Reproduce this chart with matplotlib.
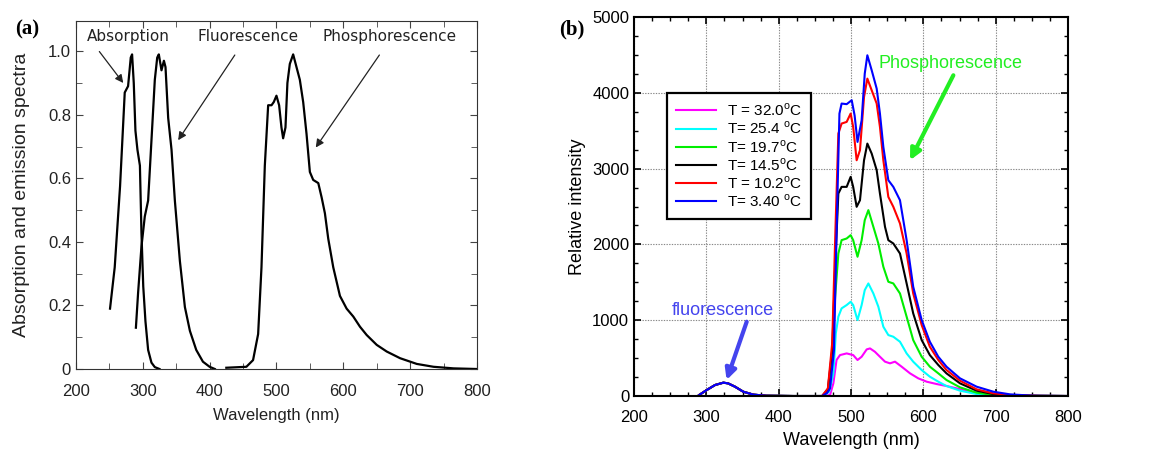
import numpy as np
import matplotlib
matplotlib.use("Agg")
import matplotlib.pyplot as plt
from matplotlib.ticker import MultipleLocator

plt.rcParams["font.family"] = ["Liberation Sans", "DejaVu Sans"]
plt.rcParams["mathtext.fontset"] = "custom"
plt.rcParams["mathtext.rm"] = "Liberation Sans"

# ── panel (a): normalised spectra ─────────────────────────────────────────
abs_wl = [251, 258, 266, 273, 278, 282, 284, 286.5, 289, 292, 295.7, 298,
          300.7, 304, 308, 313, 318, 325]
abs_val = [0.19, 0.32, 0.575, 0.87, 0.89, 0.98, 0.99, 0.90, 0.75, 0.69, 0.64,
           0.43, 0.26, 0.15, 0.06, 0.02, 0.006, 0.0]

flu_wl = [289.7, 293, 298, 303, 308, 313, 318, 321.6, 324, 328, 331.6, 334,
          338, 343, 348, 355.5, 363, 370.5, 380, 390, 400, 407.8]
flu_val = [0.13, 0.24, 0.385, 0.48, 0.53, 0.72, 0.91, 0.98, 0.99, 0.94, 0.97,
           0.95, 0.79, 0.69, 0.53, 0.34, 0.195, 0.12, 0.06, 0.023, 0.007, 0.0]

pho_wl = [425, 455, 465, 472.6, 477.6, 482.6, 487.6, 492.6, 496, 500, 504,
          507.5, 510, 513.5, 516.4, 520, 525, 530, 535, 540, 545, 550, 555,
          562.6, 567.6, 572.5, 577.5, 585, 595, 605, 615, 625, 635, 650, 665,
          685, 710, 735, 765, 800]
pho_val = [0.004, 0.007, 0.028, 0.11, 0.32, 0.64, 0.83, 0.83, 0.84, 0.86, 0.83,
           0.76, 0.726, 0.76, 0.90, 0.96, 0.99, 0.95, 0.91, 0.84, 0.74, 0.62,
           0.595, 0.585, 0.54, 0.49, 0.41, 0.32, 0.23, 0.19, 0.165, 0.133,
           0.107, 0.076, 0.055, 0.034, 0.016, 0.007, 0.002, 0.0]

# ── panel (b): temperature series ─────────────────────────────────────────
uv_wl = [290, 300.5, 312, 323.5, 330, 339.6, 351, 365, 383, 420, 457]
uv_int = [13, 79, 145, 176, 167, 123, 57, 18, 4, 0, 0]

t_labels = [r"T = 32.0$^{\mathrm{o}}$C", r"T= 25.4 $^{\mathrm{o}}$C",
            r"T= 19.7$^{\mathrm{o}}$C", r"T= 14.5$^{\mathrm{o}}$C",
            r"T = 10.2$^{\mathrm{o}}$C", r"T= 3.40 $^{\mathrm{o}}$C"]
t_colors = ["#ff00ff", "#00ffff", "#00ee00", "#000000", "#ff0000", "#0000ff"]

wl_32 = [462, 471, 475.6, 480, 484.8, 494, 503, 509, 514.7, 521.7, 526.3, 533,
         540, 547, 553.9, 560.8, 570, 581.6, 593, 604.6, 618.4, 632, 646, 660,
         673.7, 696.8, 740, 800]
int_32 = [0, 13, 167, 475, 540, 562, 540, 475, 518, 615, 628, 584, 518, 453,
          431, 453, 387, 299, 233, 189, 158, 132, 101, 66, 35, 9, 2, 0]

wl_25 = [462, 470, 475.6, 479, 482.5, 487, 494, 499.5, 503, 509, 514.7, 519,
         524, 530.9, 537.8, 544.7, 551.6, 558.5, 567.7, 576.9, 586, 597.7, 609,
         620.7, 632, 650.7, 673.7, 696.8, 740, 800]
int_25 = [0, 60, 299, 826, 1046, 1156, 1200, 1243, 1200, 1002, 1200, 1397,
          1485, 1353, 1178, 914, 804, 782, 716, 562, 453, 343, 255, 189, 132,
          70, 26, 9, 2, 0]

wl_19 = [461, 469, 474, 478, 482.5, 487, 494, 499.5, 503, 509, 514.7, 519,
         524, 530.9, 537.8, 544.7, 551.6, 558.5, 567.7, 576.9, 586, 597.7, 609,
         620.7, 632, 650.7, 673.7, 696.8, 740, 800]
int_19 = [0, 80, 500, 1300, 1880, 2056, 2078, 2122, 2056, 1837, 2056, 2320,
          2452, 2232, 2012, 1705, 1507, 1485, 1353, 1046, 738, 518, 387, 299,
          211, 114, 44, 13, 3, 0]

wl_14 = [460, 468, 474, 478.5, 482.5, 487, 494, 499.5, 503, 507.8, 512.4, 518,
         522.6, 528.6, 535.5, 540, 547, 551.6, 558.5, 567.7, 576.9, 586, 597.7,
         609, 620.7, 632, 650.7, 673.7, 696.8, 720, 760, 800]
int_14 = [0, 90, 600, 1800, 2671, 2759, 2759, 2891, 2759, 2496, 2583, 3110,
          3330, 3198, 2979, 2671, 2232, 2056, 2012, 1880, 1485, 1090, 738, 540,
          409, 299, 167, 70, 26, 9, 2, 0]

wl_10 = [460, 468, 474, 478.5, 482.5, 487, 494, 499.5, 503, 507.8, 512.4, 518,
         522.6, 528.6, 535.5, 540, 544.7, 551.6, 558.5, 567.7, 576.9, 586,
         597.7, 609, 620.7, 632, 650.7, 673.7, 696.8, 720, 760, 800]
int_10 = [0, 100, 700, 2200, 3462, 3594, 3616, 3726, 3550, 3110, 3243, 3945,
          4187, 4033, 3858, 3550, 3110, 2627, 2496, 2276, 1880, 1353, 936, 650,
          475, 343, 202, 88, 35, 13, 3, 0]

wl_3 = [460, 467, 471, 476.5, 480, 484, 487, 494, 501, 505, 509, 514.7, 519,
        522.6, 528.6, 535.5, 540, 544.7, 551.6, 558.5, 567.7, 576.9, 586,
        597.7, 609, 620.7, 632, 650.7, 673.7, 696.8, 719.8, 752, 800]
int_3 = [0, 40, 101, 606, 2144, 3726, 3858, 3850, 3902, 3700, 3352, 3638, 4253,
         4495, 4297, 4055, 3726, 3286, 2847, 2759, 2583, 2056, 1441, 1002, 716,
         518, 387, 233, 123, 57, 22, 4, 0]

t_wl = [wl_32, wl_25, wl_19, wl_14, wl_10, wl_3]
t_int = [int_32, int_25, int_19, int_14, int_10, int_3]


fig = plt.figure(figsize=(11.49, 4.53), dpi=100)

# ── (a) ────────────────────────────────────────────────────────────────────
ax1 = fig.add_axes([0.0661, 0.1854, 0.3490, 0.7682])
for wl, val in [(abs_wl, abs_val), (flu_wl, flu_val), (pho_wl, pho_val)]:
    ax1.plot(wl, val, color="black", lw=1.6)
ax1.set_xlim(200, 800)
ax1.set_ylim(0, 1.095)
ax1.set_xticks(range(200, 801, 100))
ax1.set_yticks([0, 0.2, 0.4, 0.6, 0.8, 1.0])
ax1.set_yticklabels(["0", "0.2", "0.4", "0.6", "0.8", "1.0"])
ax1.xaxis.set_minor_locator(MultipleLocator(50))
ax1.yaxis.set_minor_locator(MultipleLocator(0.1))
ax1.tick_params(which="both", direction="in", top=True, right=True,
                labelsize=12, color="#444444", labelcolor="#222222")
ax1.tick_params(axis="x", pad=11)
ax1.tick_params(which="major", length=5)
ax1.tick_params(which="minor", length=4)
for sp in ax1.spines.values():
    sp.set_color("#333333")
ax1.set_xlabel("Wavelength (nm)", fontsize=12, color="#222222", labelpad=6)
ax1.set_ylabel("Absorption and emission spectra", fontsize=14,
               color="#222222", labelpad=13)

ann_font = dict(family="DejaVu Sans", fontsize=11, color="#222222")
arrow_k = dict(arrowstyle="-|>", color="#222222", lw=0.9,
               mutation_scale=12, shrinkA=0, shrinkB=0)
ax1.text(278, 1.045, "Absorption", ha="center", va="center", **ann_font)
ax1.annotate("", xy=(270.8, 0.90), xytext=(235, 0.999), arrowprops=arrow_k)
ax1.text(457.6, 1.045, "Fluorescence", ha="center", va="center", **ann_font)
ax1.annotate("", xy=(352.9, 0.72), xytext=(437.7, 0.988), arrowprops=arrow_k)
ax1.text(669, 1.045, "Phosphorescence", ha="center", va="center", **ann_font)
ax1.annotate("", xy=(558.8, 0.697), xytext=(654, 0.988), arrowprops=arrow_k)

# ── (b) ────────────────────────────────────────────────────────────────────
ax2 = fig.add_axes([0.5518, 0.1258, 0.3777, 0.8367])
ax2.grid(True, which="major", color="#888888", ls=(0, (1.2, 1.2)), lw=0.8)
for wl, it, c, lab in zip(t_wl, t_int, t_colors, t_labels):
    x = np.concatenate([uv_wl, wl])
    y = np.concatenate([uv_int, it])
    ax2.plot(x, y, color=c, lw=1.5, label=lab)
ax2.set_xlim(200, 800)
ax2.set_ylim(0, 5000)
ax2.set_xticks(range(200, 801, 100))
ax2.set_yticks(range(0, 5001, 1000))
ax2.xaxis.set_minor_locator(MultipleLocator(25))
ax2.yaxis.set_minor_locator(MultipleLocator(250))
ax2.tick_params(which="both", direction="in", top=True, right=True,
                labelsize=12)
ax2.tick_params(axis="x", pad=10)
ax2.tick_params(which="major", length=5, width=1.2)
ax2.tick_params(which="minor", length=3, width=1.0)
for sp in ax2.spines.values():
    sp.set_linewidth(1.5)
ax2.set_xlabel("Wavelength (nm)", fontsize=13, labelpad=5)
ax2.set_ylabel("Relative intensity", fontsize=13, labelpad=4)

leg = ax2.legend(loc="upper left", bbox_to_anchor=(0.076, 0.80),
                 borderaxespad=0, fontsize=11, frameon=True, fancybox=False,
                 framealpha=1, edgecolor="black", handlelength=2.6,
                 handletextpad=0.7, labelspacing=0.1, borderpad=0.6)
leg.get_frame().set_linewidth(1.6)

ax2.text(636.9, 4385, "Phosphorescence", ha="center", va="center",
         fontsize=13, color="#22ee22")
ax2.annotate("", xy=(581.6, 3110), xytext=(641.5, 4231),
             arrowprops=dict(arrowstyle="-|>", color="#22ee22", lw=3,
                             mutation_scale=16, shrinkA=0, shrinkB=0))
ax2.text(322.6, 1133, "fluorescence", ha="center", va="center",
         fontsize=13, color="#4444ee")
ax2.annotate("", xy=(328, 211), xytext=(355.8, 980),
             arrowprops=dict(arrowstyle="-|>", color="#4444ee", lw=3,
                             mutation_scale=16, shrinkA=0, shrinkB=0))

fig.text(0.013, 0.934, "(a)", family="Liberation Serif", fontweight="bold",
         fontsize=15, va="center", ha="left")
fig.text(0.487, 0.934, "(b)", family="Liberation Serif", fontweight="bold",
         fontsize=15, va="center", ha="left")

fig.savefig("out.png", dpi=100)
